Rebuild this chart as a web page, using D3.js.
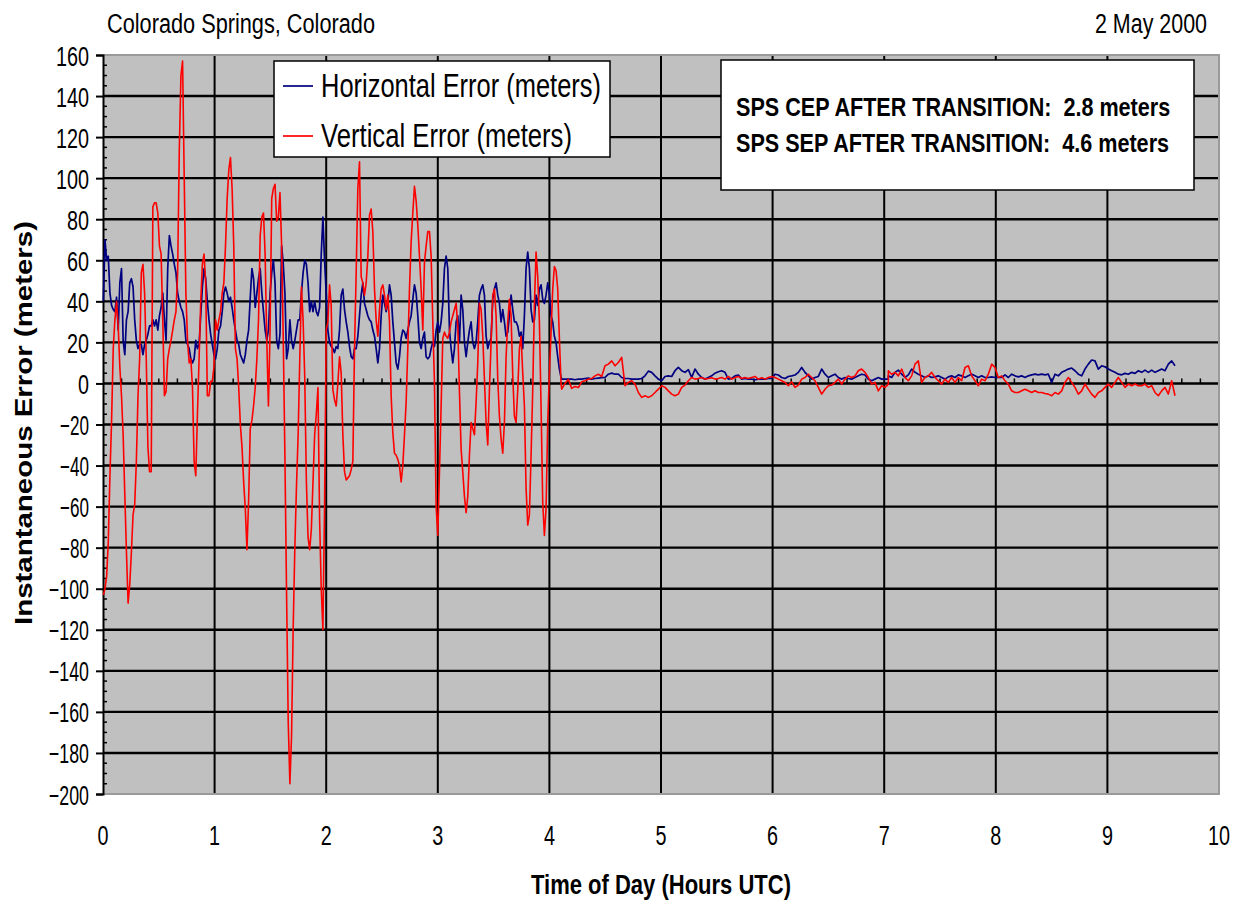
<!DOCTYPE html>
<html><head><meta charset="utf-8">
<script src="https://cdn.jsdelivr.net/npm/d3@7"></script>
<style>
body{margin:0;background:#fff;}
svg{display:block;}
text{font-family:"Liberation Sans Narrow","Arial Narrow","Liberation Sans",Arial,sans-serif;fill:#000;}
</style>
</head><body>
<svg id="chart" width="1246" height="905"></svg>
<script>
// ---------- DATA ----------
const chartTitle = "Colorado Springs, Colorado";
const chartDate = "2 May 2000";
const xTitle = "Time of Day (Hours UTC)";
const yTitle = "Instantaneous Error (meters)";
const seriesNames = ["Horizontal Error (meters)", "Vertical Error (meters)"];
const notes = ["SPS CEP AFTER TRANSITION:\u00A0 2.8 meters", "SPS SEP AFTER TRANSITION:\u00A0 4.6 meters"];
const xTicks = [0,1,2,3,4,5,6,7,8,9,10];
const yTicks = [160,140,120,100,80,60,40,20,0,-20,-40,-60,-80,-100,-120,-140,-160,-180,-200];

// sampling segments (hours): start time and interval of each logged block
const segStart = [0.003, 2.0149, 4.110, 7.037];
const segStep  = [0.014793, 0.014925, 0.029869, 0.029869];

// Horizontal error (meters)
const horizA = [40,70,60,62,44,38,36,35,42,26, 49,56,21,14,31,35,49,51,47,31,
 21,17,19,19,14,19,21,24,28,28, 31,28,31,26,33,37,44,31,21,56,
 72,67,63,58,54,44,40,37,35,31, 21,19,17,12,10,12,21,17,19,33,
 47,56,51,40,31,24,19,14,12,17, 26,28,35,44,47,44,40,42,37,31,
 26,21,19,14,12,10,14,21,26,42, 56,51,37,44,51,56,44,35,26,21,
 26,44,54,60,49,21,17,24,67,58, 44,12,17,31,21,17,21,26,31,31,
 44,54,60,58,49,35,40,35,40,35, 33,37,63,81,60,44];
const horizB = [26,20,18,17,15,18,17,26,43,46, 36,30,25,18,13,12,17,17,23,33,
 43,49,39,36,33,31,30,26,23,17, 10,17,33,43,39,35,39,48,43,30,
 20,10,7,13,22,26,25,22,26,30, 33,41,48,44,33,20,17,22,25,13,
 12,13,17,20,18,26,30,25,30,39, 56,62,56,26,17,10,17,30,33,20,
 43,36,20,13,20,26,30,20,17,20, 30,43,46,48,43,23,17,20,22,41,
 46,49,43,39,30,36,30,23,25,33, 43,36,30,30,28,23,25,17,33,56,
 64,56,36,30,31,43,38,46,48,41, 39,43,49,44,33,30,23,20,13,7, 3];
const horizC1 = [2.1,2.1,2.1,2.1,1.8,2.1,2.1,2.4,2.6,2.1, 2.4,2.6,2.8,2.9,4.5,5,4.5,4.5,2.9,2.4,
 2.4,2.1,2.1,2.1,2.4,3.7,6,5.4,3.7,2.1, 1.3,3.4,3.7,3.4,6.2,7.8,6.2,5.4,6.7,2.9,
 7,4.5,2.9,2.1,2.9,3.7,5,5.7,6.2,5.4, 2.1,2.4,3.7,4.1,2.1,2.4,2.1,2.1,1.8,2.1,
 2.1,2.1,2.4,2.4,4.5,4.1,2.9,2.4,3.4,3.7, 4.1,5.4,7.8,5.4,3.7,2.1,2.9,3.4,7,4.5,
 2.9,3.7,4.5,2.9,2.1,2.9,2.4,2.1,2.9,3.7, 4.5,4.1,2.1,1.3,2.1,2.9,2.1,2.1,2.1];
const horizC2 = [3.7,2.9,5.4,6.5,4.5,2.9,4.2,7,5.4,4.5, 3.7,2.9,3.7,2.9,3.2,3.7,2.9,2.1,3.2,3.7,
 2.9,4.2,3.7,2.9,3.7,4.5,3.7,2.9,3.7,2.9, 2.9,3.2,2.9,2.9,2.9,4.2,2.9,4.5,3.7,3.2,
 3.7,2.9,3.7,4.2,4.5,4.2,4.5,4.2,4.5,0.5, 4.5,3.7,5.4,6.2,7,7.5,6.2,4.5,3.7,7,
 9.4,11.4,11,7,8.6,8.1,7,6.2,5.4,4.5, 4.2,4.9,4.5,5.4,4.9,6.2,5.4,6.5,5.4,6.5,
 5.4,6.2,7,6.2,9.4,11,8.6];

// Vertical error (meters)
const vertA = [-103,-100,-94,-77,-45,-18,17,31,40,28, 8,-6,-25,-54,-82,-107,-98,-82,-64,-59,
 -38,-6,12,54,58,44,12,-31,-43,-43, 86,88,88,83,67,63,31,-6,-4,12,
 17,21,26,31,35,54,113,150,157,100, 44,21,10,12,-2,-38,-45,-15,12,40,
 58,63,49,-6,-6,1,1,8,31,26, 31,35,44,49,67,90,104,110,95,67,
 17,12,-2,-20,-31,-48,-61,-81,-57,-22, -18,-11,-2,12,31,72,81,83,63,21,
 -11,26,90,95,97,79,81,93,67,21, -36,-103,-165,-195,-172,-119,-80,-50,-25,12,
 47,31,3,-48,-75,-81,-71,-48,-25,-15, -2,-66,-100,-120,-60,26];
const vertB = [30,48,38,-3,-8,-11,0,13,5,-25, -43,-47,-46,-45,-42,-38,17,54,95,108,
 52,49,43,49,62,82,85,74,46,31, 23,36,46,48,43,36,43,30,-6,-24,
 -34,-35,-37,-40,-48,-40,-25,-9,17,46, 69,83,96,89,77,62,46,26,59,67,
 74,74,62,30,0,-60,-74,-43,-11,22, 25,23,22,25,30,33,36,39,28,-4,
 -32,-43,-55,-63,-55,-35,-19,-22,-25,-9, 10,39,36,23,2,-19,-30,-3,20,43,
 46,33,2,-16,-27,-34,-19,13,30,41, 33,4,-16,-19,-3,17,23,5,-11,-51,
 -69,-64,-35,-3,38,64,52,30,-11,-58, -74,-61,-19,5,25,46,57,55,46,22, 0];
const vertC1 = [-2.8,0,2,-2.4,-1.5,-2,0.8,1.3,2.1,2.4, 3.7,4.5,3.4,8.6,9.4,11,8.6,10.2,12.7,-1.1,
 0.5,1.3,-0.3,-4.4,-6.8,-6,-6.8,-6,-4.4,-2.8, -1.1,-1.9,-3.6,-5.2,-6,-5.2,-1.9,-0.8,1.3,2.9,
 2.1,2.4,2.9,2.1,2.4,2.8,2.1,2.4,2.9,2.1, 3.4,2.1,2.9,3.4,2.4,2.9,2.4,2.9,3.4,2.1,
 2.8,2.1,2.9,3.4,2.9,2.1,1.3,0.5,-1.1,0.8, -1.9,-0.8,2.1,2.9,4.5,2.9,1.3,-1.9,-5.2,-2.8,
 -1.1,-0.8,0.5,2.1,-0.3,2.1,3.7,2.9,3.7,6.2, 7,5.4,2.9,-0.3,0.5,-3.6,-1.1,-1.9,-0.3];
const vertC2 = [6.2,4.5,5.4,3.7,7,2.9,1.3,3.7,9.4,11, 0.5,2.9,3.7,5.4,2.9,1.3,-0.3,2.1,0.5,2.9,
 0.5,2.9,1.3,7.8,8.6,3.7,1.3,-1.1,2.1,1.3, 4.5,9.4,7.8,2.9,3.7,1.3,-0.3,-3.6,-4.4,-4.4,
 -3.6,-2.8,-3.6,-4.4,-3.6,-4.4,-4.4,-4.9,-5.2,-6, -4.4,-5.2,-3.6,0.5,2.9,0.5,-1.9,-5.2,-3.6,-0.3,
 -2.8,-5.2,-6.8,-4.4,-3.6,-1.9,-0.3,-1.9,0.5,2.9, 0.5,-1.9,-0.3,-1.1,-0.3,-1.1,-1.1,-0.3,-1.9,-1.1,
 -4.4,-6,-3.6,-1.9,-5.2,1.3,-6];

// ---------- BUILD ----------
function build(segs){
  const out=[];
  segs.forEach((vals,i)=>{
    vals.forEach((v,j)=>out.push({t:segStart[i]+j*segStep[i], v:v}));
  });
  return out;
}
const horizontal = build([horizA,horizB,horizC1,horizC2]);
const vertical = build([vertA,vertB,vertC1,vertC2]);

const svg = d3.select("#chart");
const L=103, R=1219, T=55, B=794;
const x = d3.scaleLinear().domain([0,10]).range([L,R]);
const y = d3.scaleLinear().domain([-200,160]).range([B,T]);

// plot area
svg.append("rect").attr("x",L).attr("y",T).attr("width",R-L).attr("height",B-T)
  .attr("fill","#c0c0c0");

// horizontal gridlines
svg.append("g").selectAll("line").data(yTicks.filter(d=>d<160 && d>-200)).join("line")
  .attr("x1",L).attr("x2",R).attr("y1",d=>y(d)).attr("y2",d=>y(d))
  .attr("stroke","#000").attr("stroke-width",2.4);
// vertical gridlines
svg.append("g").selectAll("line").data(xTicks.filter(d=>d>0 && d<10)).join("line")
  .attr("x1",d=>x(d)).attr("x2",d=>x(d)).attr("y1",T).attr("y2",B)
  .attr("stroke","#000").attr("stroke-width",2);
// plot border (top/right/bottom light gray)
svg.append("path").attr("d",`M${L},${T}H${R}V${B}H${L}`).attr("fill","none")
  .attr("stroke","#9a9a9a").attr("stroke-width",2);

// y axis
const yAxis = d3.axisLeft(y).tickValues(yTicks).tickSize(7).tickPadding(10).tickFormat(d3.format("d"));
const gy = svg.append("g").attr("transform",`translate(${L},0)`).call(yAxis);
gy.select(".domain").attr("stroke","#000").attr("stroke-width",2);
gy.selectAll(".tick line").attr("stroke","#000").attr("stroke-width",2);
gy.selectAll(".tick text").attr("font-size",27).attr("dy",null).attr("dominant-baseline",null)
  .attr("y",10).attr("x",-14)
  .attr("textLength",d=>String(Math.abs(d)).length*11 + (d<0?7:0))
  .attr("lengthAdjust","spacingAndGlyphs")
  .style("font-family",'"Liberation Sans Narrow","Arial Narrow","Liberation Sans",Arial,sans-serif');
gy.attr("font-size",null).attr("font-family",null);
// y minor ticks every 5
const yMinor = d3.range(-200,160,5).filter(d=>d%20!==0);
svg.append("g").selectAll("line").data(yMinor).join("line")
  .attr("x1",L).attr("x2",L+4).attr("y1",d=>y(d)).attr("y2",d=>y(d))
  .attr("stroke","#000").attr("stroke-width",1.5);

// x axis (crossing at 0) minor ticks every 10 minutes
const xMinor = d3.range(1,60).filter(k=>k%6!==0).map(k=>k/6);
svg.append("g").selectAll("line").data(xMinor).join("line")
  .attr("x1",d=>x(d)).attr("x2",d=>x(d)).attr("y1",y(0)).attr("y2",y(0)-5)
  .attr("stroke","#000").attr("stroke-width",1.5);

// x tick labels
svg.append("g").selectAll("text").data(xTicks).join("text")
  .attr("x",d=>x(d)).attr("y",845).attr("text-anchor","middle").attr("font-size",28)
  .attr("textLength",d=>String(d).length*11).attr("lengthAdjust","spacingAndGlyphs")
  .text(d=>d);

// series
const line = d3.line().x(d=>x(d.t)).y(d=>y(d.v));
svg.append("path").datum(horizontal).attr("d",line).attr("fill","none")
  .attr("stroke","#000080").attr("stroke-width",1.7).attr("stroke-linejoin","round");
svg.append("path").datum(vertical).attr("d",line).attr("fill","none")
  .attr("stroke","#ff0000").attr("stroke-width",1.6).attr("stroke-linejoin","round");

// titles
svg.append("text").attr("x",107).attr("y",33).attr("font-size",27)
  .attr("textLength",268).attr("lengthAdjust","spacingAndGlyphs").text(chartTitle);
svg.append("text").attr("x",1095).attr("y",33).attr("font-size",27)
  .attr("textLength",112).attr("lengthAdjust","spacingAndGlyphs").text(chartDate);
svg.append("text").attr("x",661).attr("y",894).attr("text-anchor","middle")
  .attr("font-size",27).attr("font-weight","bold")
  .attr("textLength",260).attr("lengthAdjust","spacingAndGlyphs").text(xTitle);
svg.append("text").attr("transform","translate(32,423) rotate(-90)").attr("text-anchor","middle")
  .attr("font-size",24).attr("font-weight","bold")
  .style("font-family",'"Liberation Sans",Arial,sans-serif')
  .attr("textLength",404).attr("lengthAdjust","spacingAndGlyphs").text(yTitle);

// legend
const lg = svg.append("g");
lg.append("rect").attr("x",274).attr("y",61).attr("width",336).attr("height",96)
  .attr("fill","#fff").attr("stroke","#000").attr("stroke-width",1.5);
const legendColors = ["#000080","#ff0000"];
const legendY = [86,136];
const legendLen = [280,251];
seriesNames.forEach((n,i)=>{
  lg.append("line").attr("x1",283).attr("x2",313).attr("y1",legendY[i]).attr("y2",legendY[i])
    .attr("stroke",legendColors[i]).attr("stroke-width",1.7);
  lg.append("text").attr("x",321).attr("y",legendY[i]+11).attr("font-size",33)
    .attr("textLength",legendLen[i]).attr("lengthAdjust","spacingAndGlyphs").text(n);
});

// annotation box
const nb = svg.append("g");
nb.append("rect").attr("x",721).attr("y",60).attr("width",473).attr("height",130)
  .attr("fill","#fff").attr("stroke","#000").attr("stroke-width",1.5);
notes.forEach((n,i)=>{
  nb.append("text").attr("transform",`translate(736,${116+i*36}) scale(1,1.22)`)
    .attr("font-size",21.6).attr("font-weight","bold")
    .style("font-family",'"Liberation Sans",Arial,sans-serif')
    .text(n);
});
</script>
</body></html>
